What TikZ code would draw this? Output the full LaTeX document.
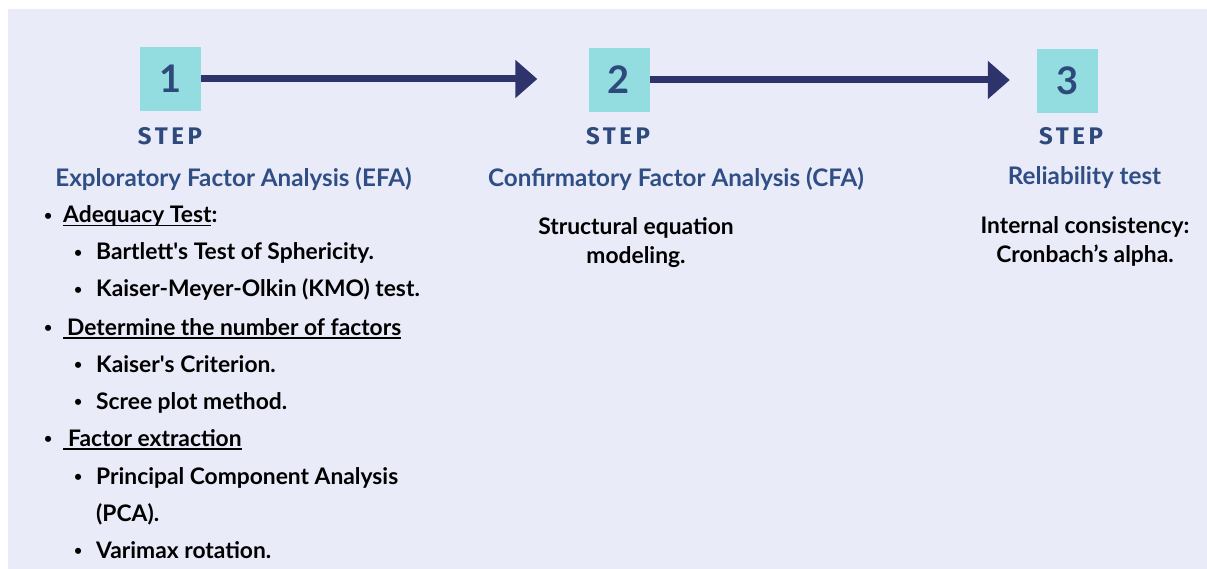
\documentclass[tikz,border=0pt]{standalone}
\usepackage{fontspec}
\setmainfont{Lato}
\newfontfamily\stepfont[LetterSpace=15]{Fira Sans}
\usetikzlibrary{arrows.meta}
\definecolor{bgc}{RGB}{234,235,248}
\definecolor{boxc}{RGB}{147,221,224}
\definecolor{arrc}{RGB}{47,51,107}
\definecolor{numc}{RGB}{46,74,124}
\definecolor{titc}{RGB}{46,78,133}
\newcommand\fsz[1]{\fontsize{#1}{#1}\selectfont}
\newcommand\myul[1]{\setbox0\hbox{#1}\rlap{\rule[-3.5pt]{\wd0}{1.4pt}}\box0}
\newcommand\bul{\raisebox{2.5pt}{\fsz{14}•}}
\tikzset{
  stepbox/.style={fill=boxc, minimum width=61pt, minimum height=64pt, inner sep=0pt,
    text=numc, font=\fsz{38}\bfseries},
  steplabel/.style={anchor=base, text=numc, font=\stepfont\fsz{24}\bfseries, inner sep=0pt},
  titl/.style={anchor=base, text=titc, font=\fsz{24.2}\bfseries, inner sep=0pt},
  body/.style={anchor=base west, text=black, font=\fsz{22.8}\bfseries, inner sep=0pt},
  cbody/.style={anchor=base, text=black, font=\fsz{22.8}\bfseries, inner sep=0pt},
  conn/.style={draw=arrc, line width=7pt, -{Triangle[length=22pt,width=37pt]}}
}
\begin{document}
\begin{tikzpicture}[x=1pt,y=-1pt]
\useasboundingbox (0,0) rectangle (1207,569);
\fill[bgc] (8,9) rectangle (1207,569);
% step boxes
\node[stepbox] (b1) at (170.5,79) {1};
\node[stepbox] (b2) at (619,80) {2};
\node[stepbox] (b3) at (1067.5,81) {3};
\draw[conn, shorten >=51pt] (b1.east) -- (b2.west |- b1.east);
\draw[conn, shorten >=27pt] (b2.east) -- (b3.west |- b2.east);
% STEP labels
\node[steplabel] (s1) at (170,145) {STEP};
\node[steplabel] (s2) at (618,145) {STEP};
\node[steplabel] (s3) at (1071,145) {STEP};
% titles
\node[titl] (t1) at (233.5,186.5) {Exploratory Factor Analysis (EFA)};
\node[titl] (t2) at (676,186.5) {Confirmatory Factor Analysis (CFA)};
\node[titl] (t3) at (1084.5,184.5) {Reliability test};
% EFA list
\node[body] (l1) at (44,223) {\makebox[19pt][l]{\bul}\myul{Adequacy Test}:};
\node[body] (l2) at (74,260) {\makebox[22pt][l]{\bul}Bartlett\textquotesingle s Test of Sphericity.};
\node[body] (l3) at (74,297) {\makebox[22pt][l]{\bul}Kaiser-Meyer-Olkin (KMO) test.};
\node[body] (l4) at (44,335) {\makebox[19pt][l]{\bul}\myul{\kern4pt Determine the number of factors}};
\node[body] (l5) at (74,372) {\makebox[22pt][l]{\bul}Kaiser\textquotesingle s Criterion.};
\node[body] (l6) at (74,409) {\makebox[22pt][l]{\bul}Scree plot method.};
\node[body] (l7) at (44,446) {\makebox[19pt][l]{\bul}\myul{\kern5pt Factor extraction}};
\node[body] (l8) at (74,484) {\makebox[22pt][l]{\bul}Principal Component Analysis};
\node[body] (l9) at (96,521) {(PCA).};
\node[body] (l10) at (74,558) {\makebox[22pt][l]{\bul}Varimax rotation.};
% CFA text
\node[cbody] (c1) at (636,235) {Structural equation};
\node[cbody] (c2) at (636,264) {modeling.};
% reliability text
\node[cbody] (r1) at (1085,234) {Internal consistency:};
\node[cbody] (r2) at (1085,263) {Cronbach’s alpha.};
\end{tikzpicture}
\end{document}
